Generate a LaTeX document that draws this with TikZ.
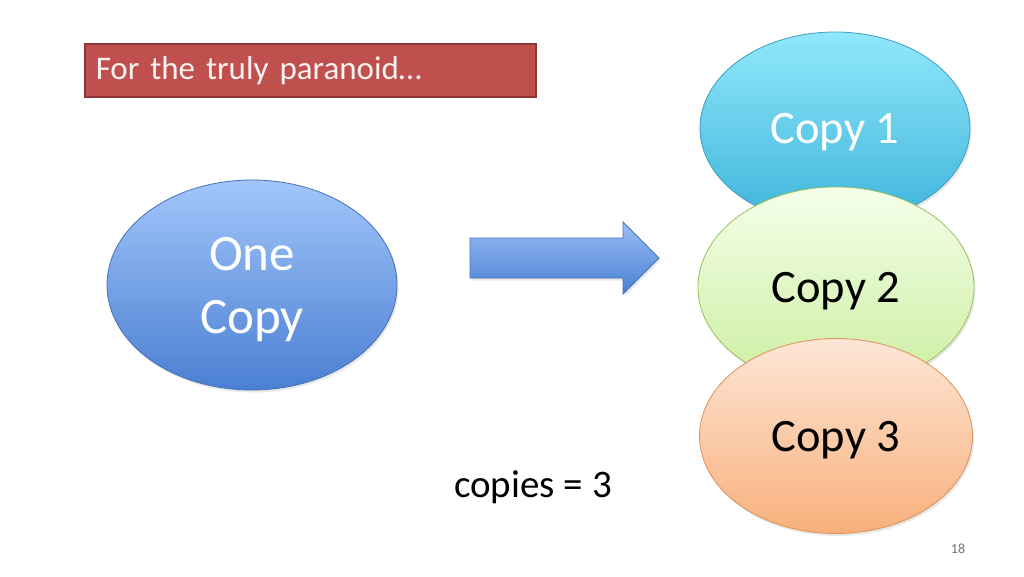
\documentclass[tikz,border=0pt]{standalone}
\usepackage{fontspec}
\setmainfont{Carlito}
\usetikzlibrary{shapes.geometric,positioning,shadows}
\definecolor{TitleRed}{HTML}{C0504D}
\definecolor{TitleEdge}{HTML}{8C3836}
\definecolor{OneTop}{HTML}{A2C6FA}
\definecolor{OneBottom}{HTML}{4A7FD2}
\definecolor{OneEdge}{HTML}{4472B8}
\definecolor{CyanTop}{HTML}{90E8FB}
\definecolor{CyanBottom}{HTML}{3DB3DA}
\definecolor{CyanEdge}{HTML}{3E9DC0}
\definecolor{GreenTop}{HTML}{F5FFEA}
\definecolor{GreenBottom}{HTML}{CBEEA0}
\definecolor{GreenEdge}{HTML}{9ABF5E}
\definecolor{PeachTop}{HTML}{FDE6D6}
\definecolor{PeachBottom}{HTML}{F8B07C}
\definecolor{PeachEdge}{HTML}{DD9158}

\begin{document}
\begin{tikzpicture}[x=1pt,y=-1pt,
    copybubble/.style={
      ellipse,
      draw,
      line width=0.8pt,
      inner sep=0pt,
      text depth=0pt,
      drop shadow={opacity=0.18,shadow xshift=1.5pt,shadow yshift=-2.5pt},
      font=\fontsize{46.5}{52}\selectfont
    }]
  \useasboundingbox[fill=white] (0,0) rectangle (1024,576);

  \node[
    fill=TitleRed,
    draw=TitleEdge,
    line width=1.5pt,
    anchor=west,
    text width=429pt,
    inner xsep=11pt,
    minimum height=53pt,
    align=left,
    text=white!92!TitleRed,
    font=\fontsize{33}{38}\selectfont
  ] (title) at (84,70.5) {For the truly paranoid…};

  \node[
    copybubble,
    draw=OneEdge,
    top color=OneTop,
    bottom color=OneBottom,
    minimum width=290pt,
    minimum height=210pt,
    text=white,
    align=center,
    font=\fontsize{51}{63}\selectfont
  ] (one) at (252,285) {One\\Copy};

  \shade[
    top color=OneTop!90!OneBottom,
    bottom color=OneBottom,
    draw=OneEdge,
    line width=0.8pt,
    drop shadow={opacity=0.18,shadow xshift=1.5pt,shadow yshift=-2.5pt}
  ] (470,238) -- (623,238) -- (623,222) -- (659,258) -- (623,294)
    -- (623,278) -- (470,278) -- cycle;

  \node[
    copybubble,
    draw=CyanEdge,
    top color=CyanTop,
    bottom color=CyanBottom,
    minimum width=270pt,
    minimum height=192pt,
    text=white
  ] (copya) at (835,128) {Copy 1};

  \node[
    copybubble,
    draw=GreenEdge,
    top color=GreenTop,
    bottom color=GreenBottom,
    minimum width=276pt,
    minimum height=200pt,
    text=black
  ] (copyb) at (836,287) {Copy 2};

  \node[
    copybubble,
    draw=PeachEdge,
    top color=PeachTop,
    bottom color=PeachBottom,
    minimum width=273pt,
    minimum height=195pt,
    text=black
  ] (copyc) at (836,436) {Copy 3};

  \node[font=\fontsize{39}{44}\selectfont] (count) at (533,487) {copies = 3};
  \node[font=\fontsize{14}{16}\selectfont, text=black!55] (page) at (958,549) {18};
\end{tikzpicture}
\end{document}
